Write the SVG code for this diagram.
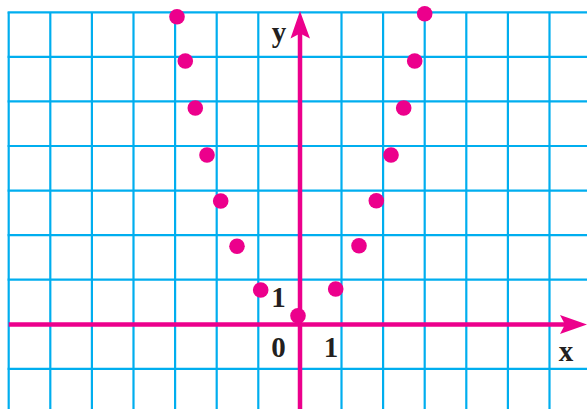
<svg xmlns="http://www.w3.org/2000/svg" width="587" height="409" viewBox="0 0 587 409">
<style>
.grid line{stroke:#00aeef;stroke-width:2.2}
.axis{stroke:#ec008c;stroke-width:4.5;fill:none}
.head{fill:#ec008c}
.pt{fill:#ec008c}
.lbl{font-family:"Liberation Serif",serif;font-weight:bold;font-size:29px;fill:#231f20;text-anchor:middle}
</style>
<rect width="587" height="409" fill="#fff"/>
<g id="grid" class="grid">
<line x1="8.7" y1="12.3" x2="8.7" y2="409"/>
<line x1="50.3" y1="12.3" x2="50.3" y2="409"/>
<line x1="91.9" y1="12.3" x2="91.9" y2="409"/>
<line x1="133.5" y1="12.3" x2="133.5" y2="409"/>
<line x1="175.1" y1="12.3" x2="175.1" y2="409"/>
<line x1="216.7" y1="12.3" x2="216.7" y2="409"/>
<line x1="258.3" y1="12.3" x2="258.3" y2="409"/>
<line x1="341.5" y1="12.3" x2="341.5" y2="409"/>
<line x1="383.1" y1="12.3" x2="383.1" y2="409"/>
<line x1="424.7" y1="12.3" x2="424.7" y2="409"/>
<line x1="466.3" y1="12.3" x2="466.3" y2="409"/>
<line x1="507.9" y1="12.3" x2="507.9" y2="409"/>
<line x1="549.5" y1="12.3" x2="549.5" y2="409"/>
<line x1="7.6" y1="12.3" x2="587" y2="12.3"/>
<line x1="7.6" y1="56.9" x2="587" y2="56.9"/>
<line x1="7.6" y1="101.4" x2="587" y2="101.4"/>
<line x1="7.6" y1="146" x2="587" y2="146"/>
<line x1="7.6" y1="190.6" x2="587" y2="190.6"/>
<line x1="7.6" y1="235.2" x2="587" y2="235.2"/>
<line x1="7.6" y1="279.7" x2="587" y2="279.7"/>
<line x1="7.6" y1="368.9" x2="587" y2="368.9"/>
</g>
<g id="connectors">
<line class="axis" x1="300" y1="409" x2="300" y2="30"/>
<path class="head" d="M300,11 L310,38.5 L300,33.5 L290.5,38.5 Z"/>
<line class="axis" x1="8.7" y1="324.5" x2="568" y2="324.5"/>
<path class="head" d="M587,324.5 L560,334 L565,324.5 L560,315 Z"/>
</g>
<g id="labels">
<text class="lbl" x="279" y="42">y</text>
<text class="lbl" x="566" y="361">x</text>
<text class="lbl" x="278.5" y="306.5">1</text>
<text class="lbl" x="278.5" y="357">0</text>
<text class="lbl" x="331" y="357">1</text>
</g>
<g id="points">
<circle id="p1" class="pt" cx="177" cy="16.7" r="7.8"/>
<circle id="p2" class="pt" cx="185.3" cy="61" r="7.8"/>
<circle id="p3" class="pt" cx="195.3" cy="108" r="7.8"/>
<circle id="p4" class="pt" cx="207" cy="155" r="7.8"/>
<circle id="p5" class="pt" cx="220.7" cy="201" r="7.8"/>
<circle id="p6" class="pt" cx="237" cy="246.3" r="7.8"/>
<circle id="p7" class="pt" cx="260.7" cy="290" r="7.8"/>
<circle id="p8" class="pt" cx="298" cy="315.7" r="7.8"/>
<circle id="p9" class="pt" cx="335.7" cy="289" r="7.8"/>
<circle id="p10" class="pt" cx="359" cy="245.7" r="7.8"/>
<circle id="p11" class="pt" cx="376.3" cy="200.7" r="7.8"/>
<circle id="p12" class="pt" cx="391" cy="155" r="7.8"/>
<circle id="p13" class="pt" cx="403.7" cy="108" r="7.8"/>
<circle id="p14" class="pt" cx="414.7" cy="61" r="7.8"/>
<circle id="p15" class="pt" cx="424.7" cy="13.7" r="7.8"/>
</g>
</svg>
